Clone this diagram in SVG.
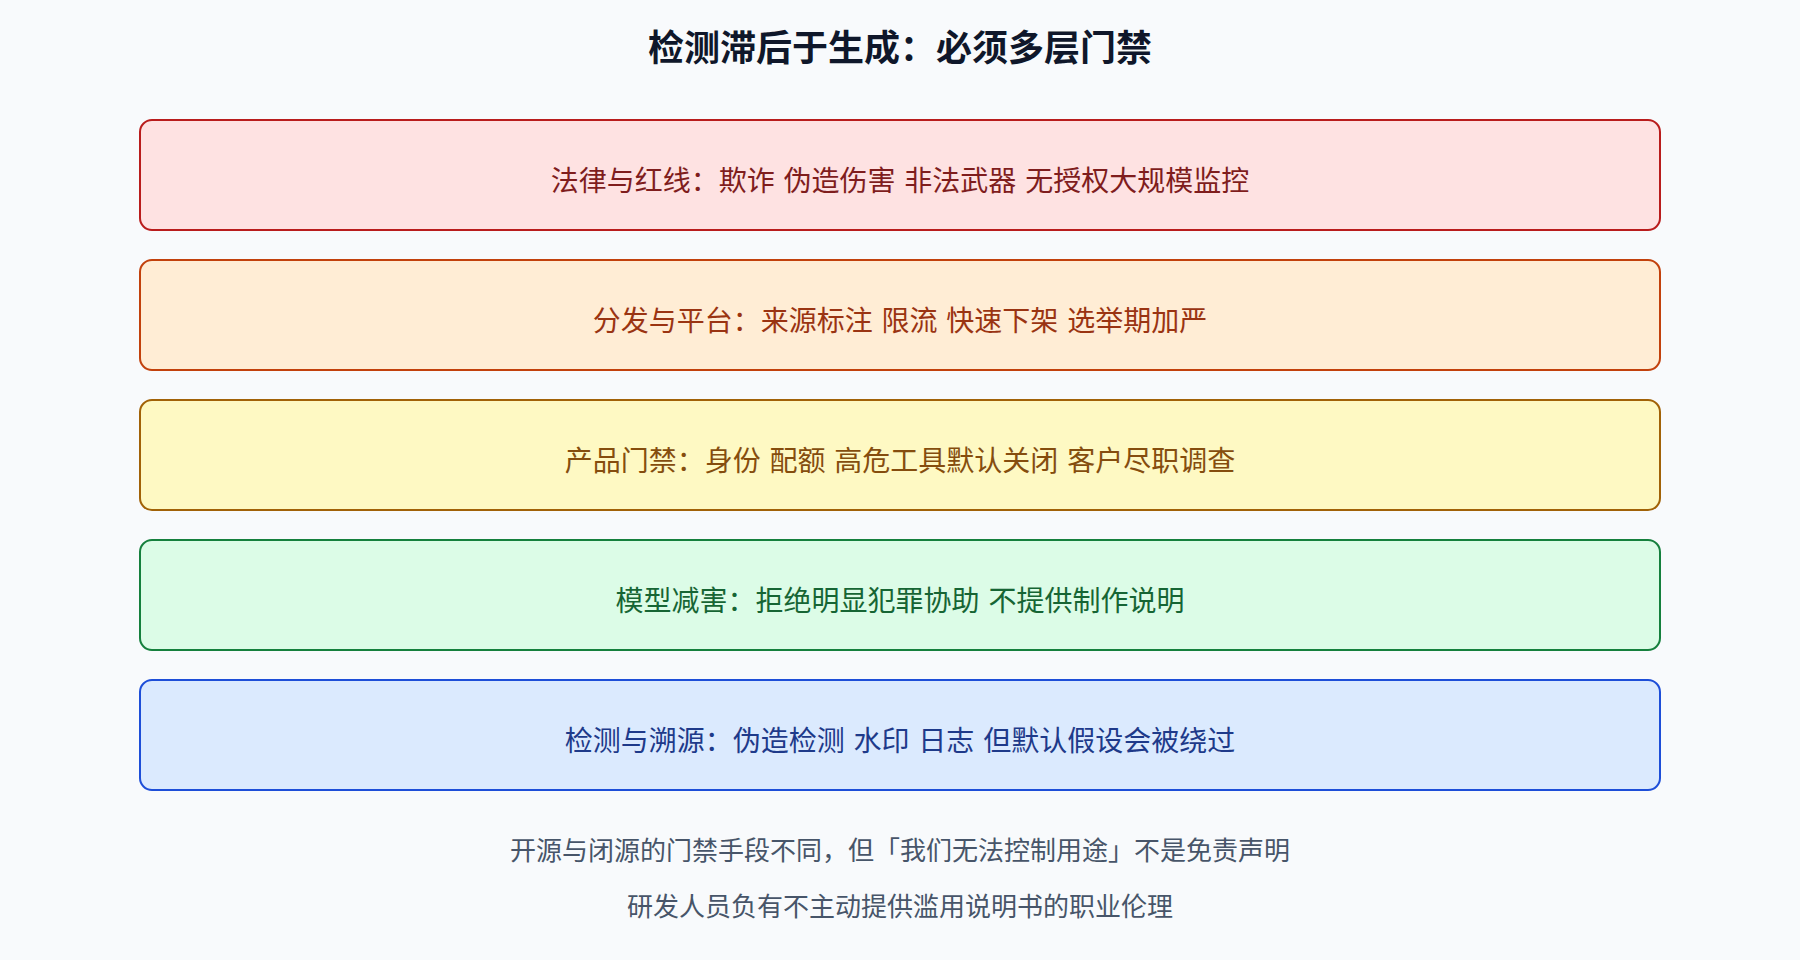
<svg xmlns="http://www.w3.org/2000/svg" width="1800" height="960" viewBox="0 0 1800 960">
<style>
text{font-family:"Noto Sans CJK SC","Noto Sans",sans-serif;text-anchor:middle}
.title{font-size:36px;font-weight:700;fill:#0f172a}
.box{stroke-width:2}
.lbl{font-size:28px;word-spacing:2.5px}
.foot{font-size:26px;fill:#475569}
</style>
<rect width="1800" height="960" fill="#f8fafc"/>
<text class="title" x="900" y="61">检测滞后于生成：必须多层门禁</text>
<g id="layer-law">
<rect class="box" x="140" y="120" width="1520" height="110" rx="12" fill="#fee2e2" stroke="#b91c1c"/>
<text class="lbl" x="900" y="191" fill="#7f1d1d">法律与红线：欺诈 伪造伤害 非法武器 无授权大规模监控</text>
</g>
<g id="layer-platform">
<rect class="box" x="140" y="260" width="1520" height="110" rx="12" fill="#ffedd5" stroke="#c2410c"/>
<text class="lbl" x="900" y="331" fill="#9a3412">分发与平台：来源标注 限流 快速下架 选举期加严</text>
</g>
<g id="layer-product">
<rect class="box" x="140" y="400" width="1520" height="110" rx="12" fill="#fef9c3" stroke="#a16207"/>
<text class="lbl" x="900" y="471" fill="#854d0e">产品门禁：身份 配额 高危工具默认关闭 客户尽职调查</text>
</g>
<g id="layer-model">
<rect class="box" x="140" y="540" width="1520" height="110" rx="12" fill="#dcfce7" stroke="#15803d"/>
<text class="lbl" x="900" y="611" fill="#166534">模型减害：拒绝明显犯罪协助 不提供制作说明</text>
</g>
<g id="layer-detect">
<rect class="box" x="140" y="680" width="1520" height="110" rx="12" fill="#dbeafe" stroke="#1d4ed8"/>
<text class="lbl" x="900" y="751" fill="#1e3a8a">检测与溯源：伪造检测 水印 日志 但默认假设会被绕过</text>
</g>
<g id="connectors"/>
<text class="foot" x="900" y="860">开源与闭源的门禁手段不同，但「我们无法控制用途」不是免责声明</text>
<text class="foot" x="900" y="916">研发人员负有不主动提供滥用说明书的职业伦理</text>
</svg>
